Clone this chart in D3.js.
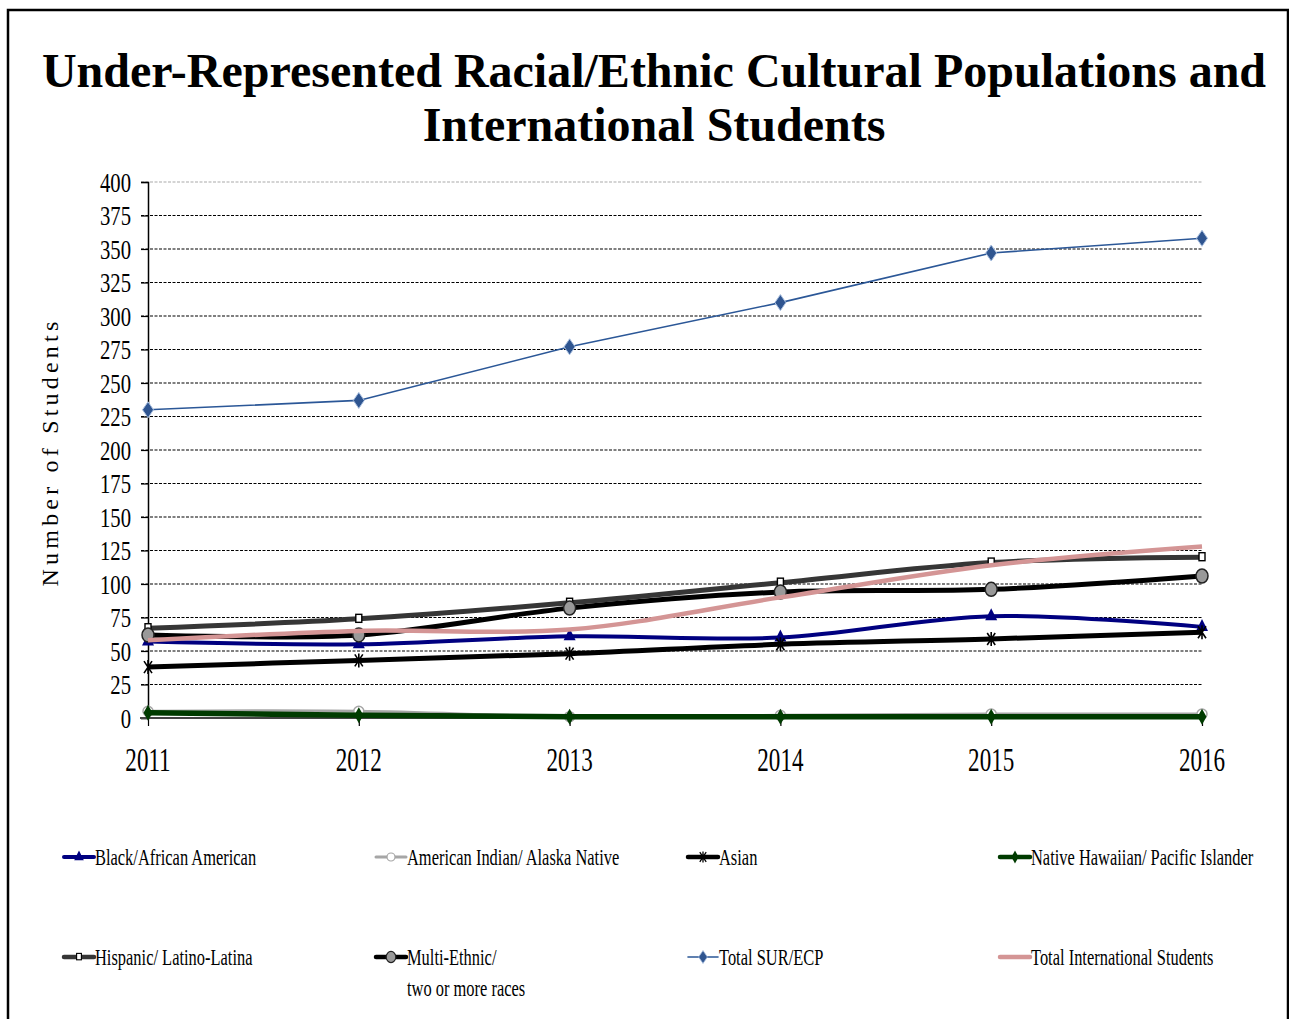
<!DOCTYPE html>
<html><head><meta charset="utf-8">
<script src="https://cdn.jsdelivr.net/npm/d3@7"></script>
<style>body{margin:0;background:#fff}svg{display:block}</style>
</head><body>
<svg id="c" width="1289" height="1019"></svg>
<script>
const years = [2011, 2012, 2013, 2014, 2015, 2016];
const yTicks = [0, 25, 50, 75, 100, 125, 150, 175, 200, 225, 250, 275, 300, 325, 350, 375, 400];
const blackAfricanAmerican = [57, 55, 61, 60, 76, 68];
const americanIndian = [5, 5, 1, 2, 3, 3];
const asian = [38, 43, 48, 55, 59, 64];
const nativeHawaiian = [4, 2, 1, 1, 1, 1];
const hispanic = [67, 74, 86, 101, 116, 120];
const multiEthnic = [62, 62, 82, 94, 96, 106];
const totalSUR = [230, 237, 277, 310, 347, 358];
const totalInternational = [58, 65, 66, 90, 114, 128];
const seriesLabels = ["Black/African American", "American Indian/ Alaska Native", "Asian", "Native Hawaiian/ Pacific Islander",
  "Hispanic/ Latino-Latina", "Multi-Ethnic/\ntwo or more races", "Total SUR/ECP", "Total International Students"];
const titleLines = ["Under-Represented Racial/Ethnic Cultural Populations and", "International Students"];
const yAxisTitle = "Number of Students";

const svg = d3.select("#c");
const FONT = "'Liberation Serif','Times New Roman',serif";
const SX = 0.715;

// frame
svg.append("rect").attr("x", 8).attr("y", 10).attr("width", 1280).attr("height", 1020)
  .attr("fill", "none").attr("stroke", "#000").attr("stroke-width", 2.5);

// title
titleLines.forEach((t, i) => {
  svg.append("text").attr("x", 654).attr("y", 87 + i * 54).attr("text-anchor", "middle")
    .attr("font-family", FONT).attr("font-weight", "bold").attr("font-size", 48).text(t);
});

const x = d3.scalePoint().domain(years).range([148, 1202]);
const y = d3.scaleLinear().domain([0, 400]).range([718, 182]);

// gridlines
svg.append("g").selectAll("line").data(yTicks.filter(d => d > 0)).join("line")
  .attr("x1", 141).attr("x2", 1202).attr("y1", d => y(d)).attr("y2", d => y(d))
  .attr("stroke", d => d === 400 ? "#aaa" : "#000").attr("stroke-width", 1.2)
  .attr("stroke-dasharray", "3,1.5");

// y axis
const ya = svg.append("g").attr("transform", "translate(148,0)")
  .call(d3.axisLeft(y).tickValues(yTicks).tickSize(7).tickFormat(""));
ya.select(".domain").attr("stroke", "#000").attr("stroke-width", 1.5);
ya.selectAll(".tick line").attr("stroke", "#000").attr("stroke-width", 1.2);
// x axis
const xa = svg.append("g").attr("transform", "translate(0,718)")
  .call(d3.axisBottom(x).tickSize(8).tickFormat(""));
xa.select(".domain").attr("stroke", "#444").attr("stroke-width", 2).attr("d", "M140,0H1202");
xa.selectAll(".tick line").attr("stroke", "#000").attr("stroke-width", 1.2);

// y labels
yTicks.forEach(v => {
  svg.append("text").attr("transform", `translate(131,${y(v)}) scale(0.74,1)`)
    .attr("text-anchor", "end").attr("dy", "0.34em")
    .attr("font-family", FONT).attr("font-size", 28).text(v);
});
// x labels
years.forEach(v => {
  svg.append("text").attr("transform", `translate(${x(v)},771) scale(0.7,1)`)
    .attr("text-anchor", "middle").attr("font-family", FONT).attr("font-size", 33).text(v);
});
// y title
svg.append("text").attr("transform", "translate(58,452) rotate(-90)")
  .attr("text-anchor", "middle").attr("font-family", FONT).attr("font-size", 24)
  .attr("letter-spacing", 4.2).text(yAxisTitle);

// marker painters
const markers = {
  tri: (g, c) => g.append("path").attr("d", "M0,-8L6,4L-6,4Z").attr("fill", c.color),
  openCircle: (g, c) => g.append("circle").attr("r", 5).attr("fill", "#fff").attr("stroke", "#a6a6a6").attr("stroke-width", 1.5),
  star: (g, c) => g.append("path").attr("d", "M-4,-6L4,6M4,-6L-4,6M0,-7L0,7").attr("stroke", "#000").attr("stroke-width", 1.6).attr("fill", "none"),
  diamondGreen: (g, c) => g.append("path").attr("d", "M0,-8L4.5,0L0,8L-4.5,0Z").attr("fill", "#003b00"),
  square: (g, c) => g.append("rect").attr("x", -3).attr("y", -4.5).attr("width", 6).attr("height", 8).attr("fill", "#fff").attr("stroke", "#000").attr("stroke-width", 1.4),
  grayCircle: (g, c) => g.append("ellipse").attr("rx", 6).attr("ry", 7).attr("fill", "#999").attr("stroke", "#222").attr("stroke-width", 1.5),
  diamondBlue: (g, c) => g.append("path").attr("d", "M0,-8L5.5,0L0,8L-5.5,0Z").attr("fill", "#2f5590").attr("stroke", "#a9bfdf").attr("stroke-width", 1),
  none: () => {}
};

const series = [
  { values: blackAfricanAmerican, color: "#000080", width: 4, marker: "tri", smooth: true },
  { values: americanIndian, color: "#a6a6a6", width: 3, marker: "openCircle", smooth: true },
  { values: asian, color: "#000", width: 5, marker: "star", smooth: true },
  { values: nativeHawaiian, color: "#003b00", width: 5.5, marker: "diamondGreen", smooth: true },
  { values: hispanic, color: "#363636", width: 5, marker: "square", smooth: true },
  { values: multiEthnic, color: "#000", width: 5, marker: "grayCircle", smooth: true },
  { values: totalSUR, color: "#2b5797", width: 1.6, marker: "diamondBlue", smooth: false },
  { values: totalInternational, color: "#d49595", width: 4.5, marker: "none", smooth: true }
];

series.forEach((s, i) => {
  const line = d3.line().x((d, j) => x(years[j])).y(d => y(d))
    .curve(s.smooth ? d3.curveCatmullRom.alpha(0.5) : d3.curveLinear);
  svg.append("path").datum(s.values).attr("d", line).attr("fill", "none")
    .attr("stroke", s.color).attr("stroke-width", s.width).attr("stroke-linejoin", "round");
  s.values.forEach((v, j) => {
    const g = svg.append("g").attr("transform", `translate(${x(years[j])},${y(v)})`);
    markers[s.marker](g, s);
  });
});

// legend
const colX = [64, 376, 688, 1000];
const rowY = [857, 957];
series.forEach((s, i) => {
  const cx = colX[i % 4], cy = rowY[Math.floor(i / 4)];
  svg.append("line").attr("x1", cx).attr("x2", cx + 30).attr("y1", cy).attr("y2", cy)
    .attr("stroke", s.color).attr("stroke-width", Math.min(s.width, 4.5)).attr("stroke-linecap", "round");
  const g = svg.append("g").attr("transform", `translate(${cx + 15},${cy}) scale(0.8)`);
  markers[s.marker](g, s);
  seriesLabels[i].split("\n").forEach((t, k) => {
    svg.append("text").attr("transform", `translate(${cx + 31},${cy + 8 + k * 31}) scale(${SX},1)`)
      .attr("font-family", FONT).attr("font-size", 23).text(t);
  });
});
</script>
</body></html>
